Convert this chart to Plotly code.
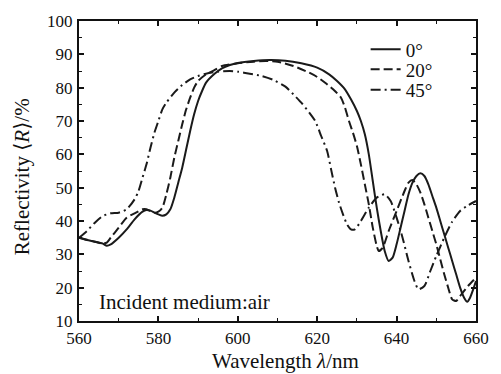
import plotly.graph_objects as go

# 0 degree (solid)
wl0 = [560, 562, 564, 566, 567, 568, 570, 572, 574, 576, 577, 578, 579, 580, 581, 582, 583, 584, 585, 586, 587, 588, 589, 590, 591, 592, 594, 596, 598, 600, 604, 608, 612, 616, 620, 623, 625, 627, 628.5, 630, 631, 632, 633, 634, 635, 636, 637, 638, 639, 640, 641, 642, 643, 644, 645, 646, 647, 648, 649, 650, 651, 652, 653, 654, 655, 656, 657, 657.8, 658.5, 659.3, 660]
r0 = [35, 34.3, 33.8, 33.2, 32.6, 33, 35, 37.5, 40.5, 42.8, 43.3, 43.1, 42.5, 42, 41.6, 42, 43.5, 47, 51.5, 56, 61.5, 67, 72, 76, 79, 81.5, 84, 85.8, 86.8, 87.4, 88, 88.3, 88.1, 87.3, 86, 84, 82, 79.5, 76.5, 73, 70, 66, 60, 52, 44, 37, 31, 28, 29, 33, 38, 43, 48, 51.5, 53.5, 54.3, 53.5, 51, 47.5, 44, 40, 36, 32, 28, 24, 20, 17, 15.8, 17, 19.5, 22]

# 20 degree (dashed)
wl20 = [560, 564, 566, 567, 568, 570, 572, 574, 576, 577, 578, 579, 580, 581, 582, 583, 584, 585, 586, 587, 588, 589, 590, 592, 594, 596, 600, 604, 607, 610, 614, 618, 620, 622, 624, 626, 627, 628, 629, 630, 631, 632, 633, 634, 635, 635.5, 636.5, 638, 640, 642, 643, 644, 645, 646, 647, 648, 649, 650, 651, 652, 653, 654, 655, 656, 658, 660]
r20 = [35, 33.8, 33.2, 33.5, 35, 38, 41, 42.3, 43.5, 43.5, 43, 42.5, 42.8, 44, 48, 53, 59, 64, 69, 73.5, 77, 80, 82, 84, 85.2, 86.5, 87.3, 87.8, 88, 87.8, 86.5, 84.5, 83.2, 81.5, 79.5, 77, 74, 70, 66.5, 62.5, 57, 51, 45, 38, 32.5, 31, 32, 37, 43, 49, 51.5, 52.3, 51, 48.5, 45, 41, 37, 33, 28.5, 24, 20, 16.5, 16, 17.5, 20.5, 23]

# 45 degree (dash-dot)
wl45 = [560, 562, 564, 566, 568, 570, 572, 574, 575, 576, 577, 578, 579, 580, 581, 582, 584, 586, 588, 590, 592, 595, 598, 600, 603, 606, 609, 612, 614, 616, 618, 619.5, 621, 622.5, 623.5, 624.5, 625.5, 626.5, 627.5, 628.5, 629.5, 631, 633, 635, 637, 638.5, 640, 641.5, 643, 644.5, 645.5, 647, 648.5, 650, 652, 654, 656, 658, 660]
r45 = [35, 37, 39.5, 41.5, 42.3, 42.5, 43.5, 46.5, 49, 53, 57, 62, 66.5, 70, 73.5, 75.5, 78.5, 80.8, 82.5, 83.5, 84.2, 84.8, 85, 84.8, 84.2, 83.5, 82.3, 80.3, 78, 75.5, 72.5, 70, 65.5, 61, 55.5, 50, 45.5, 42, 39, 37.5, 37.5, 40, 44, 47, 48, 46, 41, 35, 28, 22, 19.5, 20.5, 25, 29.5, 35, 39.8, 43, 44.7, 46]

names = ["0°", "20°", "45°"]
xticks = [560, 580, 600, 620, 640, 660]
yticks = [10, 20, 30, 40, 50, 60, 70, 80, 90, 100]

FONT = "'Liberation Serif', 'DejaVu Serif', 'Times New Roman', Times, serif"
LC = "#1a1a1a"
FS_TICK = 17
FS_TEXT = 21
FS_LEG = 19

fig = go.Figure()
fig.add_trace(go.Scatter(x=wl0, y=r0, mode="lines", name=names[0], legend="legend",
                         line=dict(color=LC, width=2, shape="spline", smoothing=0.6)))
fig.add_trace(go.Scatter(x=wl20, y=r20, mode="lines", name=names[1], legend="legend2",
                         line=dict(color=LC, width=2, dash="9px,4px", shape="spline", smoothing=0.6)))
fig.add_trace(go.Scatter(x=wl45, y=r45, mode="lines", name=names[2], legend="legend3",
                         line=dict(color=LC, width=2, dash="10px,4px,2px,4px", shape="spline", smoothing=0.6)))

axis_common = dict(
    showline=True, linecolor="#111", linewidth=2, mirror="allticks",
    ticks="inside", ticklen=5, tickwidth=1.5, tickcolor="#111",
    showgrid=False, zeroline=False,
    tickfont=dict(family=FONT, size=FS_TICK, color="#111"),
)

fig.update_xaxes(range=[560, 660], tickvals=xticks, ticktext=[str(v) for v in xticks],
                 minor=dict(ticks="inside", ticklen=3, tickwidth=1, tickcolor="#111", dtick=10, tick0=560),
                 ticklabelstandoff=1, **axis_common)
fig.update_yaxes(range=[10, 100], tickvals=yticks, ticktext=[str(v) for v in yticks],
                 minor=dict(ticks="inside", ticklen=3, tickwidth=1, tickcolor="#111", dtick=5, tick0=10),
                 ticklabelstandoff=1, **axis_common)

leg = dict(xanchor="left", yanchor="middle", bgcolor="rgba(0,0,0,0)",
           font=dict(family=FONT, size=FS_LEG, color="#111"), itemwidth=30)

fig.update_layout(
    width=501, height=374,
    margin=dict(l=79, r=23, t=16, b=53),
    paper_bgcolor="white", plot_bgcolor="white",
    font=dict(family=FONT, color="#111"),
    showlegend=True,
    legend=dict(x=0.722, y=0.905, **leg),
    legend2=dict(x=0.722, y=0.839, **leg),
    legend3=dict(x=0.722, y=0.770, **leg),
    annotations=[
        dict(text="Incident medium:air", x=0.045, y=0.062, xref="paper", yref="paper",
             xanchor="left", yanchor="middle", showarrow=False,
             font=dict(family=FONT, size=FS_TEXT, color="#111")),
        dict(text="Wavelength <i>λ</i>/nm", x=0.52, y=-0.085, xref="paper", yref="paper",
             xanchor="center", yanchor="top", showarrow=False,
             font=dict(family=FONT, size=FS_TEXT, color="#111")),
        dict(text="Reflectivity ⟨<i>R</i>⟩/%", x=-0.143, y=0.48, xref="paper", yref="paper",
             xanchor="center", yanchor="middle", showarrow=False, textangle=-90,
             font=dict(family=FONT, size=FS_TEXT, color="#111")),
    ],
)

fig.write_html("out.html")
